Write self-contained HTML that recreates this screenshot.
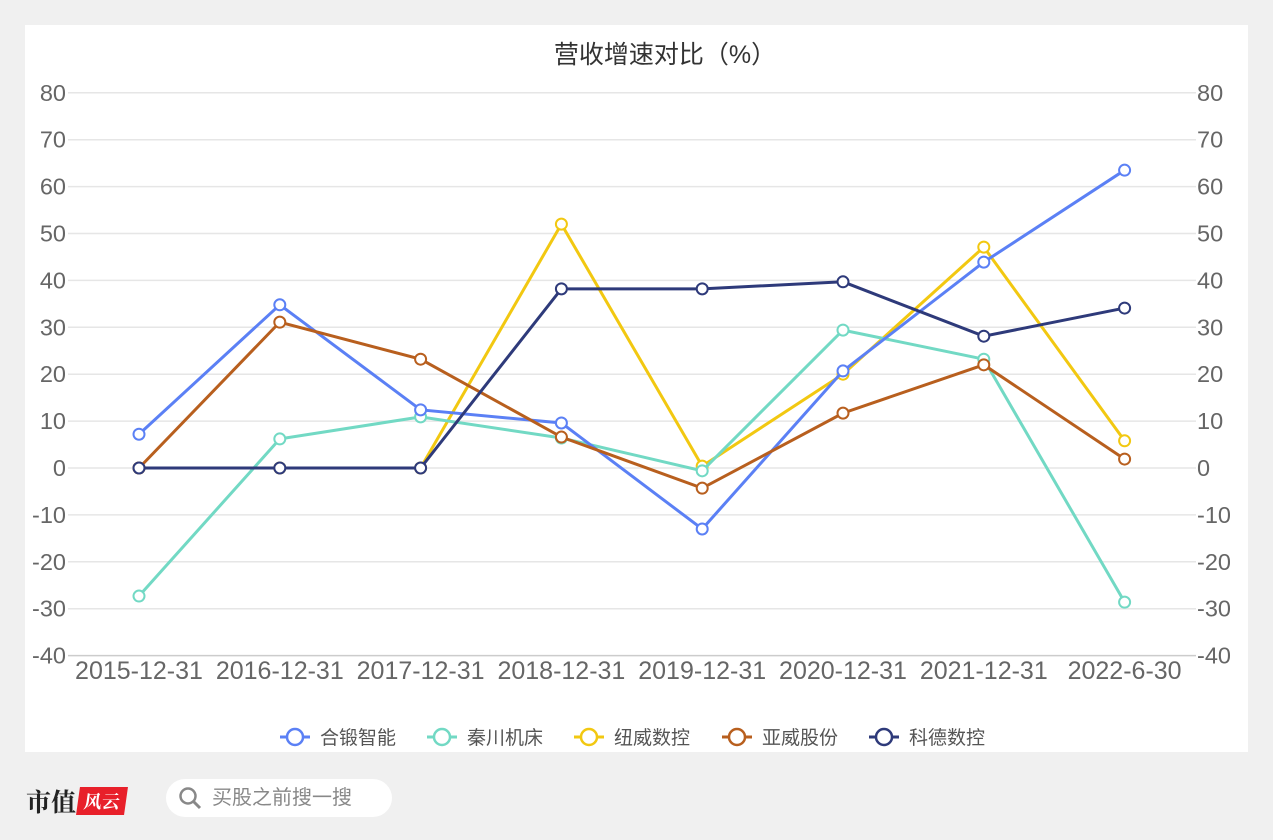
<!DOCTYPE html>
<html><head><meta charset="utf-8">
<style>
body{margin:0;width:1273px;height:840px;background:#f0f0f0;font-family:"Liberation Sans","Noto Sans CJK SC",sans-serif;overflow:hidden;position:relative}
#panel{position:absolute;left:25px;top:25px;width:1223px;height:727px;background:#fff}
svg text{font-family:"Liberation Sans","Noto Sans CJK SC",sans-serif}
</style></head><body>
<div id="panel"></div>
<svg id="chart" width="1273" height="840" style="position:absolute;left:0;top:0">
<text x="665" y="63" text-anchor="middle" font-size="25" fill="#333">营收增速对比（%）</text>
<g id="grid"></g><g id="series"></g><g id="legend"></g>
</svg>
<div style="position:absolute;left:26px;top:783px;font-size:25px;font-weight:bold;color:#222;font-family:'Noto Serif CJK SC',serif">市值<span style="display:inline-block;background:#e8202a;color:#fff;font-size:18px;padding:1px 6px;transform:skewX(-8deg);vertical-align:3px;margin-left:2px">风云</span></div>
<div style="position:absolute;left:166px;top:779px;width:226px;height:38px;border-radius:19px;background:#fff;color:#888;font-size:20px;line-height:38px">
<svg width="26" height="26" style="position:absolute;left:12px;top:7px"><circle cx="10" cy="10" r="7.5" stroke="#888" stroke-width="2.5" fill="none"/><line x1="15.5" y1="15.5" x2="22" y2="22" stroke="#888" stroke-width="3"/></svg>
<span style="position:absolute;left:46px">买股之前搜一搜</span></div>
<script>
const categories=["2015-12-31","2016-12-31","2017-12-31","2018-12-31","2019-12-31","2020-12-31","2021-12-31","2022-6-30"];
const yTicks=[80,70,60,50,40,30,20,10,0,-10,-20,-30,-40];
const seriesNames=["合锻智能","秦川机床","纽威数控","亚威股份","科德数控"];
const seriesColors=["#5b80f5","#72d9c4","#f2c811","#b85f1e","#2e3a7a"];
const hedu=[7.2,34.8,12.4,9.6,-13,20.7,43.9,63.5];
const qinchuan=[-27.3,6.2,10.9,6.4,-0.6,29.4,23.2,-28.6];
const niuwei=[0,0,0,52,0.4,20,47.1,5.8];
const yawei=[0,31.1,23.2,6.6,-4.3,11.7,22,1.9];
const kede=[0,0,0,38.2,38.2,39.7,28.1,34.1];
const allSeries=[hedu,qinchuan,niuwei,yawei,kede];
const NS="http://www.w3.org/2000/svg";
const x=i=>139+i*140.8;
const y=v=>468-v*4.69;
function mk(t,a,p){const e=document.createElementNS(NS,t);for(const k in a)e.setAttribute(k,a[k]);p.appendChild(e);return e;}
const grid=document.getElementById('grid');
yTicks.forEach(v=>{
 const l=mk('line',{x1:68,x2:1196,y1:y(v),y2:y(v),stroke:v===-40?'#ccc':'#e6e6e6','stroke-width':1.5},grid);
 
 
 const t=mk('text',{x:66,y:y(v)+8,'text-anchor':'end','font-size':23.5,fill:'#666'},grid);t.textContent=v;
 
 
 const t2=mk('text',{x:1197,y:y(v)+8,'font-size':23.5,fill:'#666'},grid);t2.textContent=v;
 
 
});
categories.forEach((c,i)=>{
 const t=mk('text',{x:x(i),y:679,'text-anchor':'middle','font-size':25,fill:'#666'},grid);t.textContent=c;
 
 
});
const sg=document.getElementById('series');
const order=[2,1,0,3,4];
order.forEach(s=>{
 const d=allSeries[s];const g=mk('g',{},sg);
 
 
 mk('polyline',{points:d.map((v,i)=>x(i)+','+y(v)).join(' '),fill:'none',stroke:seriesColors[s],'stroke-width':3},g);
 d.forEach((v,i)=>{const c=mk('circle',{cx:x(i),cy:y(v),r:5.5,fill:'#fff',stroke:seriesColors[s],'stroke-width':2},g);
  
  });
});
const lg=document.getElementById('legend');
const lx=[280,427,574,722,869];
seriesNames.forEach((n,s)=>{
 const g=mk('g',{},lg);
 
 
 mk('line',{x1:lx[s],x2:lx[s]+30,y1:737,y2:737,stroke:seriesColors[s],'stroke-width':3},g);
 mk('circle',{cx:lx[s]+15,cy:737,r:8,fill:'#fff',stroke:seriesColors[s],'stroke-width':2.5},g);
 const t=mk('text',{x:lx[s]+40,y:744,'font-size':19,fill:'#555'},g);t.textContent=n;
});
</script>
</body></html>
